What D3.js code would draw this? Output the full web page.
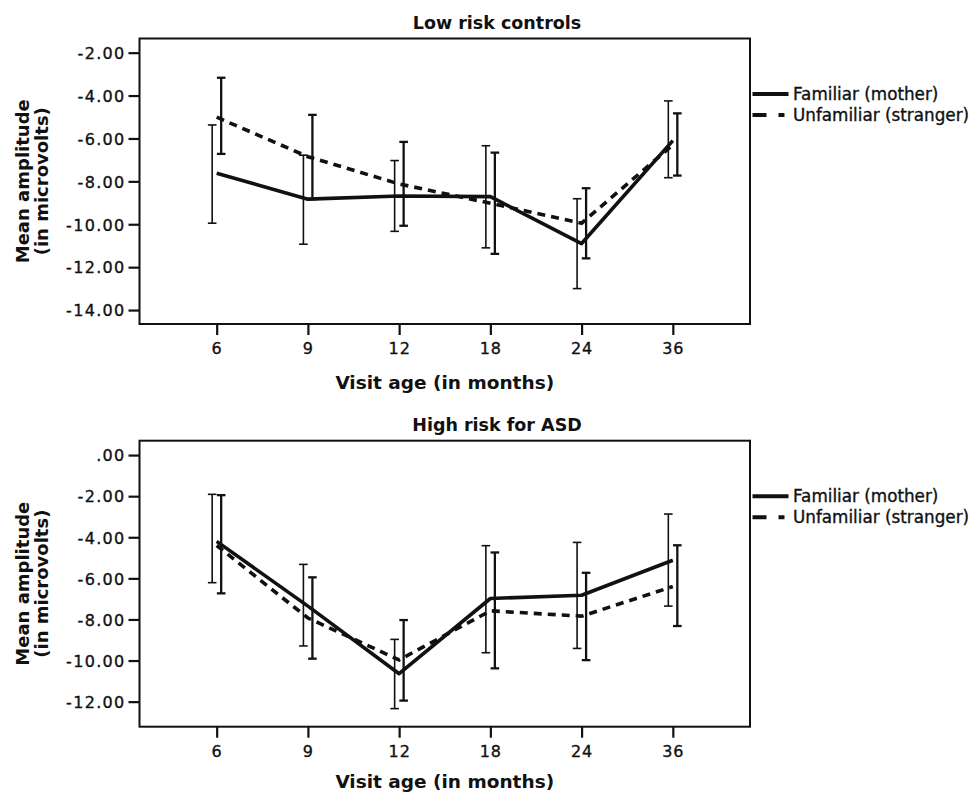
<!DOCTYPE html>
<html>
<head>
<meta charset="utf-8">
<script src="https://cdn.jsdelivr.net/npm/d3@7"></script>
<style>
  html, body { margin: 0; padding: 0; background: #fff; }
  svg { display: block; }
  text { font-family: "DejaVu Sans", Verdana, sans-serif; fill: #111; }
</style>
</head>
<body>
<svg id="chart" width="975" height="794"></svg>
<script>
// ---------- data ----------
const months = ["6", "9", "12", "18", "24", "36"];
const seriesNames = ["Familiar (mother)", "Unfamiliar (stranger)"];

// Low risk controls
const lowFamMean = [-7.62, -8.83, -8.68, -8.71, -10.90, -6.10];
const lowFamLo   = [-9.95, -10.93, -10.33, -11.10, -13.00, -7.83];
const lowFamHi   = [-5.37, -6.78, -7.03, -6.34, -8.81, -4.25];
const lowUnfMean = [-5.01, -6.85, -8.12, -9.02, -9.95, -6.30];
const lowUnfLo   = [-6.72, -8.83, -10.07, -11.38, -11.59, -7.73];
const lowUnfHi   = [-3.17, -4.90, -6.16, -6.66, -8.32, -4.83];

// High risk for ASD
const highFamMean = [-4.20, -7.35, -10.64, -6.98, -6.82, -5.12];
const highFamLo   = [-6.21, -9.29, -12.34, -9.62, -9.41, -7.35];
const highFamHi   = [-1.91, -5.32, -8.97, -4.41, -4.25, -2.87];
const highUnfMean = [-4.40, -7.93, -9.97, -7.58, -7.84, -6.40];
const highUnfLo   = [-6.73, -9.91, -11.95, -10.38, -9.98, -8.32];
const highUnfHi   = [-1.95, -5.95, -8.03, -4.74, -5.73, -4.39];

const lowTicks  = [-14, -12, -10, -8, -6, -4, -2];
const highTicks = [-12, -10, -8, -6, -4, -2, 0];
const lowDomain  = [-14.65, -1.34];
const highDomain = [-13.22, 0.70];

// ---------- layout ----------
const svg = d3.select("#chart");
const plotLeft = 139.5, plotRight = 750;

const panels = [
  { title: "Low risk controls", top: 38.5, bottom: 324, domain: lowDomain, ticks: lowTicks, xTitleOff: 65,
    fam: { mean: lowFamMean, lo: lowFamLo, hi: lowFamHi },
    unf: { mean: lowUnfMean, lo: lowUnfLo, hi: lowUnfHi } },
  { title: "High risk for ASD", top: 440.7, bottom: 726.7, domain: highDomain, ticks: highTicks, xTitleOff: 61,
    fam: { mean: highFamMean, lo: highFamLo, hi: highFamHi },
    unf: { mean: highUnfMean, lo: highUnfLo, hi: highUnfHi } }
];

const fmt = v => {
  const s = d3.format(".2f")(v);
  return s.replace(/^0\./, ".").replace(/^−/, "-");
};

panels.forEach(p => {
  const g = svg.append("g");
  const x = d3.scalePoint().domain(months).range([plotLeft, plotRight]).padding(0.846);
  const y = d3.scaleLinear().domain(p.domain).range([p.bottom, p.top]);
  const dodge = 4.5;

  // frame
  g.append("rect")
    .attr("x", plotLeft).attr("y", p.top)
    .attr("width", plotRight - plotLeft).attr("height", p.bottom - p.top)
    .attr("fill", "none").attr("stroke", "#111").attr("stroke-width", 2);

  // y axis
  const ya = g.append("g").attr("transform", `translate(${plotLeft},0)`)
    .call(d3.axisLeft(y).tickValues(p.ticks).tickSize(11).tickPadding(3).tickFormat(fmt));
  ya.select(".domain").remove();
  ya.selectAll(".tick line").attr("stroke", "#111").attr("stroke-width", 2.2);
  ya.selectAll(".tick text")
    .attr("font-family", "DejaVu Sans, sans-serif")
    .attr("font-size", 16).attr("letter-spacing", "1.3px")
    .attr("fill", "#111").attr("stroke", "#111").attr("stroke-width", 0.35)
    .attr("dy", "0.36em");

  // x axis
  const xa = g.append("g").attr("transform", `translate(0,${p.bottom})`)
    .call(d3.axisBottom(x).tickSize(11).tickPadding(8));
  xa.select(".domain").remove();
  xa.selectAll(".tick line").attr("stroke", "#111").attr("stroke-width", 2.2);
  xa.selectAll(".tick text")
    .attr("font-family", "DejaVu Sans, sans-serif")
    .attr("font-size", 16).attr("letter-spacing", "1px")
    .attr("fill", "#111").attr("stroke", "#111").attr("stroke-width", 0.35);

  // titles
  g.append("text").attr("x", 497).attr("y", p.top - 10)
    .attr("text-anchor", "middle").attr("font-weight", "bold").attr("font-size", 17.5)
    .text(p.title);
  g.append("text").attr("x", (plotLeft + plotRight) / 2).attr("y", p.bottom + p.xTitleOff)
    .attr("text-anchor", "middle").attr("font-weight", "bold").attr("font-size", 18.5)
    .text("Visit age (in months)");
  const cy = (p.top + p.bottom) / 2;
  const yl = g.append("text").attr("transform", `translate(29,${cy}) rotate(-90)`)
    .attr("text-anchor", "middle").attr("font-weight", "bold").attr("font-size", 18);
  yl.append("tspan").attr("x", 0).attr("dy", 0).text("Mean amplitude");
  yl.append("tspan").attr("x", 0).attr("dy", 19).text("(in microvolts)");

  // error bars
  const drawBars = (s, off, sw) => {
    const eb = g.append("g").attr("stroke", "#111").attr("stroke-width", sw).attr("fill", "none");
    months.forEach((m, i) => {
      const cx = x(m) + off;
      eb.append("line").attr("x1", cx).attr("x2", cx).attr("y1", y(s.lo[i])).attr("y2", y(s.hi[i]));
      eb.append("line").attr("x1", cx - 4.3).attr("x2", cx + 4.3).attr("y1", y(s.lo[i])).attr("y2", y(s.lo[i]));
      eb.append("line").attr("x1", cx - 4.3).attr("x2", cx + 4.3).attr("y1", y(s.hi[i])).attr("y2", y(s.hi[i]));
    });
  };
  drawBars(p.fam, -dodge, 1.6);
  drawBars(p.unf, dodge, 2.3);

  // mean lines
  const line = d3.line().x((d, i) => x(months[i])).y(d => y(d));
  g.append("path").datum(p.unf.mean).attr("d", line)
    .attr("fill", "none").attr("stroke", "#111").attr("stroke-width", 3.6)
    .attr("stroke-dasharray", "8,6");
  g.append("path").datum(p.fam.mean).attr("d", line)
    .attr("fill", "none").attr("stroke", "#111").attr("stroke-width", 3.6)
    .attr("stroke-linejoin", "round");

  // legend
  const ly = p.top + 55.5;
  const lg = g.append("g");
  lg.append("line").attr("x1", 752.5).attr("x2", 788.5).attr("y1", ly).attr("y2", ly)
    .attr("stroke", "#111").attr("stroke-width", 4);
  lg.append("line").attr("x1", 752.5).attr("x2", 785).attr("y1", ly + 21).attr("y2", ly + 21)
    .attr("stroke", "#111").attr("stroke-width", 4).attr("stroke-dasharray", "14,12,6,100");
  lg.append("text").attr("x", 793).attr("y", ly + 6).attr("font-size", 16.8)
    .attr("stroke", "#111").attr("stroke-width", 0.35).text(seriesNames[0]);
  lg.append("text").attr("x", 793).attr("y", ly + 27).attr("font-size", 16.8)
    .attr("stroke", "#111").attr("stroke-width", 0.35).text(seriesNames[1]);
});
</script>
</body>
</html>
